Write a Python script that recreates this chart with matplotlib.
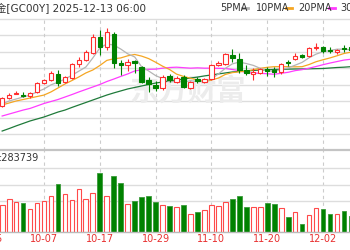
import matplotlib
matplotlib.use("Agg")
import matplotlib.pyplot as plt
from matplotlib.lines import Line2D

plt.rcParams['font.family'] = ['DejaVu Sans', 'Noto Sans CJK SC']

# COMEX gold (GC00Y) daily bars, 2025-09-29 .. 2025-12-08
dates = ["09-29", "09-30", "10-01", "10-02", "10-03", "10-06", "10-07", "10-08", "10-09", "10-10",
         "10-13", "10-14", "10-15", "10-16", "10-17", "10-20", "10-21", "10-22", "10-23", "10-24",
         "10-27", "10-28", "10-29", "10-30", "10-31", "11-03", "11-04", "11-05", "11-06", "11-07",
         "11-10", "11-11", "11-12", "11-13", "11-14", "11-17", "11-18", "11-19", "11-20", "11-21",
         "11-24", "11-25", "11-26", "11-27", "11-28", "12-01", "12-02", "12-03", "12-04", "12-05",
         "12-08"]
opens = [3873, 3919, 3945, 3942, 3933, 3959, 4010, 4030, 4067, 4020, 4041, 4126, 4152, 4194, 4291, 4230, 4312,
         4133, 4121, 4146, 4109, 4033, 4000, 3980, 4052, 4020, 4049, 3980, 4036, 4020, 4035, 4121, 4127, 4182,
         4158, 4088, 4067, 4075, 4094, 4091, 4076, 4138, 4156, 4182, 4174, 4222, 4230, 4215, 4203, 4227, 4230]
highs = [3930, 3952, 3966, 3958, 3959, 4020, 4036, 4085, 4091, 4055, 4133, 4168, 4212, 4309, 4333, 4346, 4321,
         4152, 4158, 4152, 4115, 4050, 4024, 4061, 4067, 4055, 4058, 4024, 4049, 4042, 4127, 4146, 4196, 4218,
         4192, 4121, 4101, 4103, 4109, 4109, 4133, 4149, 4194, 4185, 4230, 4256, 4236, 4230, 4221, 4242, 4248]
lows = [3867, 3915, 3944, 3927, 3921, 3953, 4006, 4027, 3994, 4010, 4036, 4111, 4146, 4188, 4182, 4212, 4103,
        4061, 4087, 4073, 4012, 3959, 3964, 3970, 4018, 4012, 3982, 3976, 4012, 4012, 4030, 4115, 4121, 4139,
        4073, 4061, 4030, 4067, 4055, 4049, 4067, 4115, 4152, 4164, 4170, 4212, 4196, 4196, 4188, 4202, 4206]
closes = [3921, 3939, 3950, 3933, 3953, 4014, 4030, 4075, 4014, 4050, 4127, 4152, 4202, 4291, 4230, 4321, 4132,
          4121, 4141, 4133, 4021, 4009, 3980, 4050, 4033, 4042, 3985, 4018, 4027, 4035, 4121, 4135, 4188, 4161,
          4091, 4075, 4081, 4097, 4087, 4078, 4127, 4132, 4176, 4172, 4222, 4233, 4208, 4209, 4212, 4221, 4212]
# volume, thousand lots
volume = [135, 165, 152, 145, 115, 145, 155, 180, 242, 190, 160, 215, 165, 195, 295, 180, 280,
          245, 140, 155, 175, 180, 152, 135, 130, 125, 135, 90, 100, 110, 135, 130, 150, 165,
          180, 125, 125, 125, 145, 140, 120, 75, 100, 40, 85, 120, 115, 90, 90, 105, 80]

# moving averages as drawn on the chart
ma5 = [3885, 3903, 3915, 3927, 3939, 3958, 3976, 4001, 4017, 4036, 4059, 4084, 4109, 4164, 4224, 4249, 4242,
       4218, 4189, 4170, 4110, 4085, 4057, 4039, 4019, 4023, 4018, 4026, 4021, 4021, 4037, 4067, 4101, 4128,
       4139, 4130, 4119, 4101, 4086, 4083, 4094, 4104, 4120, 4137, 4165, 4187, 4202, 4209, 4217, 4217, 4213]
ma10 = [3879, 3891, 3903, 3912, 3921, 3930, 3939, 3958, 3982, 4006, 4027, 4049, 4073, 4091, 4118, 4149, 4159,
        4164, 4177, 4185, 4175, 4160, 4138, 4114, 4094, 4066, 4052, 4041, 4030, 4020, 4030, 4042, 4064, 4075,
        4080, 4084, 4093, 4101, 4107, 4111, 4111, 4111, 4110, 4111, 4124, 4141, 4153, 4164, 4177, 4191, 4199]
ma20 = [3812, 3824, 3836, 3848, 3858, 3873, 3888, 3900, 3912, 3927, 3942, 3958, 3973, 3988, 4003, 4021, 4036,
        4052, 4067, 4085, 4092, 4095, 4096, 4102, 4106, 4108, 4105, 4102, 4104, 4102, 4102, 4101, 4100, 4094,
        4087, 4075, 4072, 4071, 4068, 4065, 4071, 4077, 4087, 4093, 4102, 4112, 4123, 4133, 4142, 4151, 4156]
ma30 = [3721, 3736, 3752, 3767, 3782, 3794, 3806, 3821, 3836, 3848, 3864, 3879, 3894, 3909, 3924, 3939, 3952,
        3964, 3976, 3985, 3994, 4003, 4012, 4018, 4024, 4030, 4036, 4042, 4048, 4055, 4061, 4067, 4073, 4079,
        4082, 4085, 4088, 4091, 4092, 4094, 4095, 4096, 4097, 4097, 4098, 4099, 4100, 4103, 4106, 4108, 4111]

tick_labels = ["09-25", "10-07", "10-17", "10-29", "11-10", "11-20", "12-02"]
tick_pos = [-2, 6, 14, 22, 30, 38, 46]

RED = '#ff2d2d'
GREEN = '#008200'
GRID = '#dddddd'

fig = plt.figure(figsize=(3.5, 2.5), dpi=100)
ax = fig.add_axes([0, 0.40, 1, 0.524])
axv = fig.add_axes([0, 0.072, 1, 0.328])

x = list(range(len(dates)))
xlim = (-0.31, 49.87)

# price panel
for lvl in range(3700, 4401, 100):
    ax.axhline(lvl, color=GRID, lw=1, zorder=0, clip_on=False)
for p in tick_pos:
    ax.axvline(p, color='#cccccc', lw=0.8, ls=(0, (3, 3)), zorder=0)
    axv.axvline(p, color='#cccccc', lw=0.8, ls=(0, (3, 3)), zorder=0)

# faint watermark
ax.text(0.535, 0.455, '东方财富', transform=ax.transAxes, fontsize=21, color='#ececec',
        ha='center', va='center', family=['Noto Sans CJK SC'], weight='bold', zorder=0)

ax.plot(x, ma30, color='#1f7a3a', lw=0.9, zorder=2)
ax.plot(x, ma20, color='#ff3cff', lw=0.9, zorder=2)
ax.plot(x, ma10, color='#f5a623', lw=0.9, zorder=2)
ax.plot(x, ma5, color='#b4b4b4', lw=0.9, zorder=2)

for i in x:
    up = closes[i] >= opens[i]
    c = RED if up else GREEN
    lo_b, hi_b = min(opens[i], closes[i]), max(opens[i], closes[i])
    ax.vlines(i, lows[i], highs[i], color=c, lw=0.8, zorder=3)
    ax.bar(i, max(hi_b - lo_b, 1.2), bottom=lo_b, width=0.64,
           facecolor='white' if up else c, edgecolor=c, lw=0.8, zorder=4)

ax.set_xlim(xlim)
ax.set_ylim(3606, 4400)
ax.axis('off')

# volume panel
for lvl in [155, 235, 320]:
    axv.axhline(lvl, color=GRID, lw=1, zorder=0)
for i in x:
    up = closes[i] >= opens[i]
    if up:
        axv.bar(i, volume[i], width=0.68, facecolor='white', edgecolor='#ff4a4a', lw=0.8, zorder=2)
    else:
        axv.bar(i, volume[i], width=0.68, facecolor=GREEN, edgecolor='#3a9a3a', lw=0.6, zorder=2)
axv.set_xlim(xlim)
axv.set_ylim(0, 410)
axv.set_xticks([])
axv.set_yticks([])
for s in ['left', 'right']:
    axv.spines[s].set_visible(False)
axv.spines['top'].set_color('#c4c4c4')
axv.spines['top'].set_linewidth(1.6)
axv.spines['bottom'].set_color('#bbbbbb')
axv.spines['bottom'].set_linewidth(1)
axv.text(-0.45, 370, ':283739', fontsize=7, color='#333333', va='center', ha='left')

for p, lbl in zip(tick_pos, tick_labels):
    axv.text(p, -8, lbl, fontsize=7, color='#e83030', ha='center', va='top', clip_on=False)

# header
fig.text(-4 / 350, 1 - 8 / 250, '金[GC00Y] 2025-12-13 06:00', fontsize=7.5, color='#333333',
         va='center', ha='left')
legend = [("5PMA", 220, '#b4b4b4'), ("10PMA", 256, '#f5a623'), ("20PMA", 298, '#ff3cff'),
          ("30PMA", 340, '#1f7a3a')]
for name, px, col in legend:
    fig.text(px / 350, 1 - 8 / 250, name, fontsize=7, color='#333333', va='center', ha='left')
dash_x = [242, 286, 329]
for (name, px, col), dx in zip(legend, dash_x):
    fig.add_artist(Line2D([dx / 350, (dx + 6) / 350], [1 - 8 / 250] * 2, color=col, lw=2,
                          transform=fig.transFigure))

fig.savefig('out.png', dpi=100)
